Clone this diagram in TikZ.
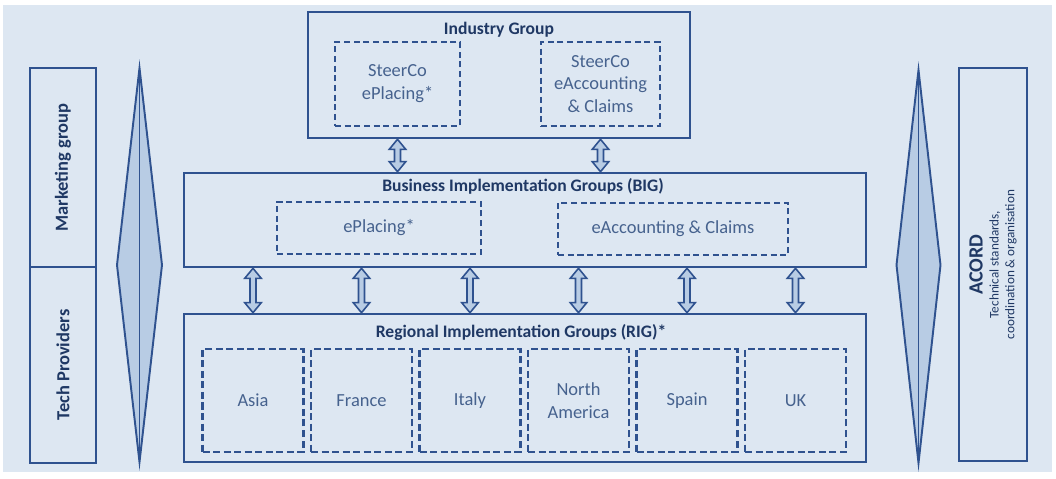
\documentclass[tikz,border=0pt]{standalone}
\usepackage{fontspec}
\setmainfont{Carlito}
\usetikzlibrary{calc}
\definecolor{bgblue}{RGB}{221,231,242}
\definecolor{lineblue}{RGB}{47,82,143}
\definecolor{titleblue}{RGB}{31,56,100}
\definecolor{textblue}{RGB}{70,98,142}
\definecolor{fillblue}{RGB}{184,204,228}
\tikzstyle{group} = [rectangle, draw=lineblue, line width=1.5pt, inner sep=0pt]
\tikzstyle{sub} = [rectangle, draw=lineblue, dash pattern=on 3.5pt off 2pt, line width=1pt, inner sep=0pt, text=textblue, align=center, font=\fontsize{10.5}{13}\selectfont]
\tikzstyle{region} = [sub, line width=1.5pt, dash pattern=on 4pt off 2pt]
\tikzstyle{title} = [text=titleblue, font=\fontsize{10}{12}\selectfont\bfseries]
\tikzstyle{side} = [group, rotate=90, minimum height=1.32cm, text=titleblue, font=\fontsize{10.5}{12}\selectfont\bfseries]
\tikzstyle{diam} = [draw=lineblue, line width=1.1pt, fill=fillblue]
\tikzstyle{updown} = [draw=lineblue, line width=0.9pt, fill=fillblue, to path={
    let \p1=(\tikztostart), \p2=(\tikztotarget) in
    (\x1,\y1) -- (\x1+4.7pt,\y1-5.7pt) -- (\x1+1.7pt,\y1-5.7pt) -- (\x1+1.7pt,\y2+5.7pt)
    -- (\x1+4.7pt,\y2+5.7pt) -- (\x1,\y2) -- (\x1-4.7pt,\y2+5.7pt) -- (\x1-1.7pt,\y2+5.7pt)
    -- (\x1-1.7pt,\y1-5.7pt) -- (\x1-4.7pt,\y1-5.7pt) -- cycle}]

\begin{document}
\begin{tikzpicture}[x=0.02cm, y=-0.02cm]
    \useasboundingbox (0,0) rectangle (1056,478);
    \fill [bgblue] (3,5) rectangle (1052,472);

    % industry group
    \node [group, minimum width=7.64cm, minimum height=2.52cm] at (499,75) (ig) {};
    \node [title] at (499,30) (igt) {Industry Group};
    \node [sub, minimum width=2.5cm, minimum height=1.68cm] at (397.5,84) (scplace) {SteerCo\\ePlacing*};
    \node [sub, minimum width=2.38cm, minimum height=1.68cm] at (600.5,84) (scacc) {SteerCo\\eAccounting\\\& Claims};

    % business implementation groups
    \node [group, minimum width=13.64cm, minimum height=1.88cm] at (525,220) (big) {};
    \node [title] at (523,186) (bigt) {Business Implementation Groups (BIG)};
    \node [sub, minimum width=4.08cm, minimum height=1.04cm] at (379,228) (place) {ePlacing*};
    \node [sub, minimum width=4.6cm, minimum height=1.04cm] at (673,229) (acc) {eAccounting \& Claims};

    % regional implementation groups
    \node [group, minimum width=13.64cm, minimum height=2.96cm] at (525,388) (rig) {};
    \node [title] at (521,332) (rigt) {Regional Implementation Groups (RIG)*};
    \foreach \name/\txt [count=\i from 0] in {asia/Asia, france/France, italy/Italy, namerica/North\\America, spain/Spain, uk/UK}
        \node [region, minimum width=2.02cm, minimum height=2.06cm] at ({253+108.5*\i},400.5) (\name) {\txt};

    % side boxes
    \node [side, minimum width=3.98cm] at (63,167.5) (mkt) {Marketing group};
    \node [side, minimum width=3.92cm] at (63,365) (tech) {Tech Providers};
    \node [group, rotate=90, minimum width=7.86cm, minimum height=1.36cm, text=titleblue, align=center,
        font=\fontsize{7.5}{9}\selectfont] at (993,264.5) (acord)
        {{\fontsize{11.5}{13}\selectfont\bfseries ACORD}\\Technical standards,\\coordination \& organisation};

    % diamonds
    \filldraw [diam] (139.5,68) -- (162,265) -- (139.5,462) -- (117,265) -- cycle;
    \draw [diam, fill=none] (139.5,68) -- (139.5,462);
    \filldraw [diam] (918.5,70) -- (940.5,265) -- (918.5,463) -- (896.5,265) -- cycle;
    \draw [diam, fill=none] (918.5,70) -- (918.5,463);

    % arrows
    \draw [updown] (ig.south -| scplace) to (big.north -| scplace);
    \draw [updown] (ig.south -| scacc) to (big.north -| scacc);
    \foreach \name in {asia, france, italy, namerica, spain, uk}
        \draw [updown] (big.south -| \name) to (rig.north -| \name);
\end{tikzpicture}
\end{document}
